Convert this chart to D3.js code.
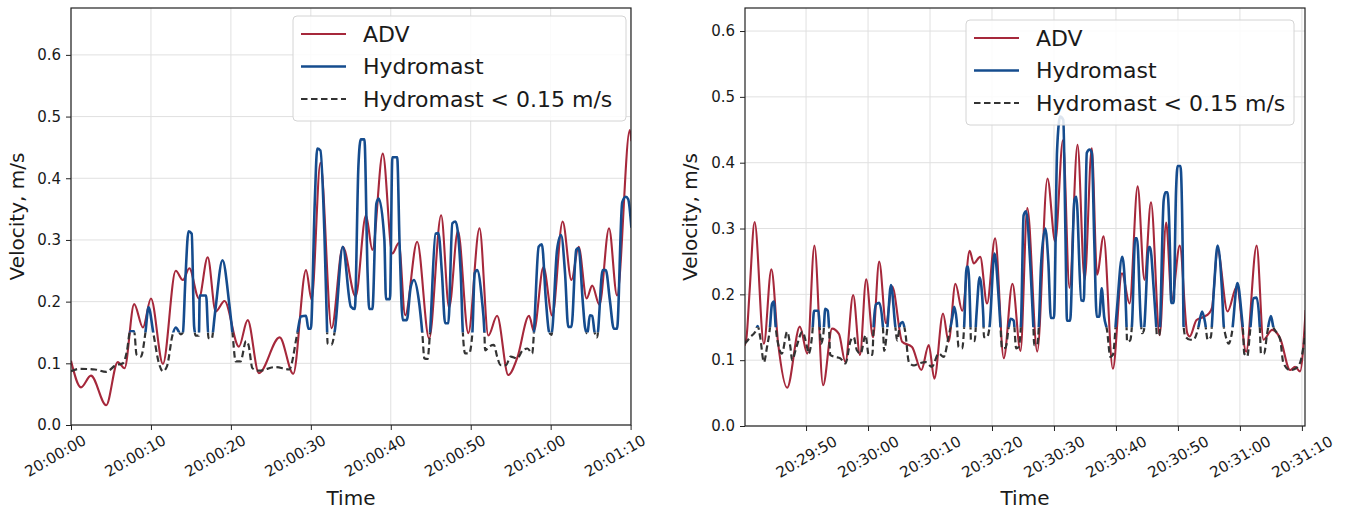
<!DOCTYPE html>
<meta charset="utf-8">
<head>
<style>
body { margin: 0; background: #fff; }
svg text { font-family: "DejaVu Sans", sans-serif; fill: #1a1a1a; }
.grid line { stroke: #e0e0e0; stroke-width: 1; }
.tick line { stroke: #222; }
</style>
</head>
<body>
<script src="https://cdn.jsdelivr.net/npm/d3@7/dist/d3.min.js"></script>
<script>

// ---- left run, seconds after 20:00:00 ----
var advTimeA = [0, 1.25, 2.5, 4.4, 5.85, 6.7, 7.9, 9.0, 10.0, 11.5,
  13.1, 14.0, 14.8, 16.0, 17.1, 18.1, 19.2, 21.0, 22.1, 23.5,
  26.1, 27.8, 29.4, 30.1, 31.2, 32.6, 34.0, 35.6, 36.9, 37.7,
  39.0, 40.2, 41.0, 41.8, 43.3, 44.8, 46.3, 47.3, 48.4, 49.7,
  51.1, 52.2, 53.3, 54.7, 55.8, 57.3, 57.9, 59.1, 60.2, 61.5,
  62.6, 63.5, 64.5, 65.2, 66.1, 67.3, 68.3, 69.9, 70.1];
var advVelA = [0.104, 0.061, 0.080, 0.032, 0.102, 0.092, 0.196, 0.158, 0.205, 0.099,
  0.250, 0.235, 0.254, 0.205, 0.272, 0.184, 0.201, 0.127, 0.170, 0.084,
  0.142, 0.083, 0.251, 0.203, 0.425, 0.157, 0.289, 0.208, 0.340, 0.284,
  0.440, 0.278, 0.295, 0.178, 0.297, 0.140, 0.340, 0.190, 0.315, 0.149,
  0.319, 0.145, 0.177, 0.081, 0.108, 0.177, 0.152, 0.256, 0.177, 0.330,
  0.235, 0.289, 0.205, 0.226, 0.195, 0.319, 0.210, 0.478, 0.460];

var hydTimeA = [0, 1.0, 3.0, 4.4, 5.6, 6.5, 7.0, 7.4, 7.9, 8.2,
  8.75, 9.3, 9.7, 10.3, 11.0, 11.5, 12.0, 12.7, 13.1, 13.75,
  14.0, 14.3, 14.7, 15.1, 15.4, 15.6, 16.0, 16.1, 16.9, 17.2,
  17.6, 18.0, 18.95, 19.8, 20.2, 20.6, 21.2, 21.9, 22.2, 22.7,
  23.5, 25.6, 27.3, 28.3, 28.75, 29.4, 29.7, 30.0, 30.5, 30.8,
  31.2, 31.7, 32.0, 32.1, 32.6, 33.0, 34.0, 35.0, 35.5, 35.95,
  36.25, 36.7, 37.1, 37.3, 37.7, 38.2, 38.5, 39.2, 39.4, 39.9,
  40.2, 40.8, 41.1, 41.5, 42.0, 42.5, 42.9, 43.5, 43.95, 44.2,
  44.6, 44.9, 45.6, 45.95, 46.4, 46.8, 47.2, 47.7, 48.1, 48.75,
  49.0, 49.3, 49.8, 50.2, 50.5, 50.8, 51.4, 51.7, 51.8, 52.3,
  52.9, 53.3, 53.75, 54.4, 55.0, 55.8, 56.5, 57.1, 57.7, 57.9,
  58.5, 58.9, 59.4, 59.8, 60.1, 60.8, 61.3, 61.8, 62.2, 62.6,
  63.2, 63.5, 64.0, 64.3, 64.6, 64.9, 65.2, 65.5, 65.8, 66.5,
  66.9, 67.4, 67.9, 68.3, 68.95, 69.4, 69.7, 70.1];
var hydVelA = [0.087, 0.091, 0.090, 0.086, 0.097, 0.100, 0.120, 0.152, 0.152, 0.114,
  0.111, 0.149, 0.191, 0.149, 0.100, 0.087, 0.095, 0.146, 0.158, 0.147,
  0.150, 0.234, 0.314, 0.310, 0.160, 0.145, 0.145, 0.210, 0.210, 0.141,
  0.140, 0.180, 0.267, 0.196, 0.149, 0.103, 0.103, 0.136, 0.130, 0.092,
  0.088, 0.094, 0.090, 0.148, 0.176, 0.177, 0.156, 0.156, 0.364, 0.448,
  0.445, 0.310, 0.170, 0.132, 0.130, 0.153, 0.289, 0.192, 0.188, 0.419,
  0.463, 0.463, 0.246, 0.188, 0.188, 0.359, 0.367, 0.300, 0.204, 0.204,
  0.434, 0.434, 0.295, 0.170, 0.170, 0.224, 0.235, 0.203, 0.148, 0.108,
  0.107, 0.148, 0.310, 0.311, 0.246, 0.165, 0.165, 0.327, 0.330, 0.246,
  0.154, 0.116, 0.116, 0.148, 0.246, 0.251, 0.203, 0.154, 0.121, 0.127,
  0.130, 0.111, 0.097, 0.097, 0.111, 0.108, 0.121, 0.124, 0.116, 0.148,
  0.289, 0.293, 0.203, 0.151, 0.146, 0.284, 0.308, 0.246, 0.159, 0.159,
  0.284, 0.287, 0.203, 0.158, 0.148, 0.178, 0.177, 0.150, 0.142, 0.251,
  0.251, 0.203, 0.156, 0.156, 0.361, 0.370, 0.366, 0.320];

// ---- right run, seconds after 20:29:40 ----
var advTimeB = [0.1, 0.4, 0.9, 1.7, 3.2, 4.4, 5.5, 6.95, 9.0, 10.2,
  11.35, 12.75, 14.2, 15.3, 16.35, 17.6, 18.7, 19.7, 20.8, 21.8,
  22.9, 23.9, 25.5, 27.1, 28.6, 29.8, 30.7, 32.1, 33.0, 34.1,
  35.2, 36.4, 37.05, 38.1, 39.2, 40.5, 41.9, 43.3, 44.6, 45.7,
  47.3, 48.95, 50.2, 51.45, 52.5, 53.8, 54.95, 56.1, 56.95, 58.0,
  59.5, 60.97, 62.2, 63.5, 64.6, 65.65, 67.05, 68.1, 69.0, 70.3,
  71.5, 71.9, 73.0, 74.2, 75.0, 75.5, 76.4, 78.0, 79.5, 81.0,
  82.7, 83.8, 85.2, 86.5, 88.1, 88.9, 89.7, 90.6];
var advVelB = [0.122, 0.135, 0.206, 0.310, 0.125, 0.238, 0.125, 0.058, 0.151, 0.110,
  0.274, 0.062, 0.148, 0.140, 0.097, 0.199, 0.108, 0.223, 0.135, 0.250,
  0.156, 0.212, 0.128, 0.120, 0.085, 0.123, 0.072, 0.171, 0.128, 0.216,
  0.175, 0.266, 0.247, 0.257, 0.186, 0.285, 0.103, 0.216, 0.114, 0.331,
  0.113, 0.376, 0.280, 0.434, 0.210, 0.427, 0.222, 0.422, 0.230, 0.288,
  0.087, 0.232, 0.186, 0.364, 0.222, 0.340, 0.138, 0.309, 0.191, 0.274,
  0.141, 0.136, 0.161, 0.166, 0.171, 0.180, 0.267, 0.174, 0.212, 0.113,
  0.274, 0.131, 0.146, 0.133, 0.085, 0.090, 0.083, 0.176];

var hydTimeB = [0.1, 0.4, 1.0, 1.8, 2.2, 2.6, 3.2, 3.7, 4.15, 4.5,
  4.8, 5.1, 5.6, 6.1, 6.95, 7.5, 7.75, 8.45, 9.4, 10.2,
  10.4, 11.0, 11.3, 12.0, 12.2, 12.4, 12.8, 13.1, 13.5, 13.7,
  13.9, 14.7, 15.5, 16.35, 17.2, 17.7, 18.2, 18.8, 19.6, 20.1,
  20.7, 20.9, 21.3, 21.8, 22.4, 22.6, 23.1, 23.7, 24.4, 24.7,
  25.2, 25.6, 26.0, 26.6, 27.4, 28.2, 29.3, 30.3, 31.4, 32.2,
  33.0, 33.6, 33.9, 34.3, 34.6, 35.2, 35.5, 35.9, 36.15, 36.5,
  36.6, 37.2, 37.5, 38.0, 38.6, 38.7, 39.2, 39.6, 40.4, 41.1,
  41.4, 41.6, 42.2, 42.7, 43.0, 43.5, 43.9, 44.3, 44.7, 45.1,
  45.5, 46.2, 46.7, 46.8, 47.3, 47.6, 47.9, 48.6, 49.1, 49.5,
  50.0, 50.5, 51.0, 51.5, 51.85, 52.1, 52.6, 53.3, 53.6, 54.4,
  54.8, 55.3, 55.75, 56.1, 56.5, 56.9, 57.3, 57.7, 58.1, 58.55,
  59.1, 59.5, 60.1, 61.0, 61.5, 61.7, 61.8, 62.3, 62.6, 63.1,
  63.4, 64.0, 64.2, 64.5, 65.3, 65.5, 66.1, 66.5, 66.6, 67.0,
  67.7, 68.0, 68.3, 68.8, 68.9, 69.3, 69.7, 69.95, 70.4, 70.8,
  70.9, 71.2, 72.0, 72.5, 73.2, 73.9, 74.4, 74.8, 75.3, 75.8,
  76.4, 77.1, 77.4, 77.6, 78.2, 78.7, 79.6, 80.3, 80.5, 80.7,
  81.2, 81.6, 82.2, 82.7, 83.2, 83.4, 83.9, 84.4, 85.0, 85.4,
  85.7, 86.5, 87.0, 88.1, 88.9, 89.7, 90.6];
var hydVelB = [0.125, 0.128, 0.135, 0.143, 0.152, 0.135, 0.097, 0.120, 0.147, 0.185,
  0.189, 0.151, 0.120, 0.110, 0.143, 0.118, 0.100, 0.120, 0.143, 0.118,
  0.110, 0.140, 0.175, 0.175, 0.151, 0.125, 0.140, 0.178, 0.175, 0.151,
  0.108, 0.105, 0.103, 0.095, 0.130, 0.135, 0.115, 0.110, 0.138, 0.108,
  0.108, 0.151, 0.185, 0.187, 0.151, 0.114, 0.148, 0.214, 0.151, 0.130,
  0.155, 0.158, 0.143, 0.097, 0.092, 0.095, 0.097, 0.090, 0.110, 0.105,
  0.136, 0.165, 0.181, 0.160, 0.120, 0.118, 0.150, 0.242, 0.242, 0.166,
  0.131, 0.129, 0.170, 0.226, 0.166, 0.135, 0.135, 0.150, 0.262, 0.191,
  0.146, 0.118, 0.119, 0.150, 0.163, 0.160, 0.118, 0.120, 0.160, 0.320,
  0.326, 0.242, 0.146, 0.123, 0.123, 0.160, 0.242, 0.300, 0.247, 0.164,
  0.164, 0.419, 0.470, 0.465, 0.292, 0.160, 0.160, 0.343, 0.348, 0.191,
  0.190, 0.415, 0.420, 0.415, 0.282, 0.166, 0.166, 0.209, 0.166, 0.146,
  0.105, 0.108, 0.171, 0.257, 0.207, 0.153, 0.128, 0.130, 0.156, 0.285,
  0.285, 0.161, 0.141, 0.145, 0.272, 0.272, 0.207, 0.151, 0.138, 0.138,
  0.343, 0.355, 0.355, 0.232, 0.187, 0.187, 0.359, 0.395, 0.395, 0.242,
  0.153, 0.136, 0.131, 0.131, 0.146, 0.174, 0.156, 0.131, 0.135, 0.207,
  0.274, 0.207, 0.151, 0.141, 0.125, 0.141, 0.217, 0.166, 0.145, 0.110,
  0.106, 0.140, 0.194, 0.195, 0.151, 0.110, 0.110, 0.141, 0.167, 0.150,
  0.145, 0.131, 0.096, 0.085, 0.087, 0.096, 0.144];

var yTicks = [0, 0.1, 0.2, 0.3, 0.4, 0.5, 0.6];
var xTicksA = [0, 10, 20, 30, 40, 50, 60, 70];
var xLabelsA = ["20:00:00", "20:00:10", "20:00:20", "20:00:30", "20:00:40", "20:00:50", "20:01:00", "20:01:10"];
var xTicksB = [10, 20, 30, 40, 50, 60, 70, 80, 90];
var xLabelsB = ["20:29:50", "20:30:00", "20:30:10", "20:30:20", "20:30:30", "20:30:40", "20:30:50", "20:31:00", "20:31:10"];
var legendLabels = ["ADV", "Hydromast", "Hydromast < 0.15 m/s"];
var threshold = 0.15;

var red = "#a6283b", blue = "#154c8e", grey = "#333333";
var styles = [
  {c: red, w: 2.1, dash: null},
  {c: blue, w: 2.6, dash: null},
  {c: grey, w: 2.2, dash: "6.5,3.5"}
];

var svg = d3.select("body").append("svg")
    .attr("width", 1347)
    .attr("height", 512);
var defs = svg.append("defs");

function drawPanel(p) {
  var x = d3.scaleLinear().domain(p.xDomain).range([p.x0, p.x1]);
  var y = d3.scaleLinear().domain([0, p.yMax]).range([p.y1, p.y0]);
  var g = svg.append("g");

  // grid
  var grid = g.append("g").attr("class", "grid");
  grid.selectAll(".gx").data(p.xTicks).join("line")
      .attr("x1", d => x(d)).attr("x2", d => x(d))
      .attr("y1", p.y0).attr("y2", p.y1);
  grid.selectAll(".gy").data(yTicks).join("line")
      .attr("x1", p.x0).attr("x2", p.x1)
      .attr("y1", d => y(d)).attr("y2", d => y(d));

  // clip regions: whole plot, above and below the 0.15 threshold
  var yt = y(threshold);
  defs.append("clipPath").attr("id", p.id + "-all").append("rect")
      .attr("x", p.x0).attr("y", p.y0).attr("width", p.x1 - p.x0).attr("height", p.y1 - p.y0);
  defs.append("clipPath").attr("id", p.id + "-hi").append("rect")
      .attr("x", p.x0).attr("y", p.y0).attr("width", p.x1 - p.x0).attr("height", yt - p.y0);
  defs.append("clipPath").attr("id", p.id + "-lo").append("rect")
      .attr("x", p.x0).attr("y", yt).attr("width", p.x1 - p.x0).attr("height", p.y1 - yt);

  var line = d3.line()
      .x(d => x(d[0]))
      .y(d => y(d[1]))
      .curve(d3.curveMonotoneX);

  var adv = d3.zip(p.advT, p.advV);
  var hyd = d3.zip(p.hydT, p.hydV);

  g.append("path")
      .attr("d", line(adv))
      .attr("clip-path", "url(#" + p.id + "-all)")
      .attr("fill", "none").attr("stroke", styles[0].c).attr("stroke-width", styles[0].w);
  g.append("path")
      .attr("d", line(hyd))
      .attr("clip-path", "url(#" + p.id + "-hi)")
      .attr("fill", "none").attr("stroke", styles[1].c).attr("stroke-width", styles[1].w)
      .attr("stroke-linejoin", "round");
  g.append("path")
      .attr("d", line(hyd))
      .attr("clip-path", "url(#" + p.id + "-lo)")
      .attr("fill", "none").attr("stroke", styles[2].c).attr("stroke-width", styles[2].w)
      .attr("stroke-dasharray", styles[2].dash);

  // axes
  var ya = g.append("g")
      .attr("transform", "translate(" + p.x0 + ",0)")
      .call(d3.axisLeft(y).tickValues(yTicks).tickFormat(d3.format(".1f")).tickSize(5).tickPadding(5));
  ya.select(".domain").remove();
  ya.selectAll("text").attr("font-size", 15);

  var xa = g.append("g")
      .attr("transform", "translate(0," + p.y1 + ")")
      .call(d3.axisBottom(x).tickValues(p.xTicks).tickFormat((d, i) => p.xLabels[i]).tickSize(5));
  xa.select(".domain").remove();
  xa.selectAll("text")
      .attr("font-size", 15)
      .attr("y", null).attr("dy", null)
      .attr("dominant-baseline", "central")
      .attr("text-anchor", "middle")
      .attr("transform", "translate(" + p.labDx + "," + p.labDy + ") rotate(-30)");

  g.append("rect")
      .attr("x", p.x0).attr("y", p.y0)
      .attr("width", p.x1 - p.x0).attr("height", p.y1 - p.y0)
      .attr("fill", "none").attr("stroke", "#222").attr("stroke-width", 1.2);

  g.append("text")
      .attr("transform", "translate(" + p.yLabelX + "," + (p.y0 + p.y1) / 2 + ") rotate(-90)")
      .attr("text-anchor", "middle")
      .attr("dominant-baseline", "central")
      .attr("font-size", 20)
      .text("Velocity, m/s");
  g.append("text")
      .attr("x", (p.x0 + p.x1) / 2).attr("y", 505)
      .attr("text-anchor", "middle")
      .attr("font-size", 20)
      .text("Time");

  // legend
  var lg = g.append("g").attr("transform", "translate(" + p.legX + "," + p.legY + ")");
  lg.append("rect")
      .attr("width", p.legW).attr("height", 105).attr("rx", 4)
      .attr("fill", "#fff").attr("fill-opacity", 0.85)
      .attr("stroke", "#d4d4d4");
  legendLabels.forEach(function(lab, i) {
    var ry = 18 + i * 32.5;
    lg.append("line")
        .attr("x1", 8).attr("x2", 53).attr("y1", ry).attr("y2", ry)
        .attr("stroke", styles[i].c).attr("stroke-width", styles[i].w)
        .attr("stroke-dasharray", styles[i].dash);
    lg.append("text")
        .attr("x", 70).attr("y", ry + 7.5)
        .attr("font-size", 22)
        .text(lab);
  });
}

drawPanel({
  id: "a", x0: 71, x1: 631, y0: 8, y1: 425,
  xDomain: [0, 70.05], yMax: 0.676,
  xTicks: xTicksA, xLabels: xLabelsA,
  advT: advTimeA, advV: advVelA, hydT: hydTimeA, hydV: hydVelA,
  labDx: -16, labDy: 31,
  yLabelX: 17, legX: 293, legY: 16, legW: 333
});

drawPanel({
  id: "b", x0: 745, x1: 1305, y0: 8, y1: 426,
  xDomain: [0.15, 90.5], yMax: 0.635,
  xTicks: xTicksB, xLabels: xLabelsB,
  advT: advTimeB, advV: advVelB, hydT: hydTimeB, hydV: hydVelB,
  labDx: 0, labDy: 31,
  yLabelX: 690, legX: 966, legY: 20, legW: 328
});

</script>
</body>
